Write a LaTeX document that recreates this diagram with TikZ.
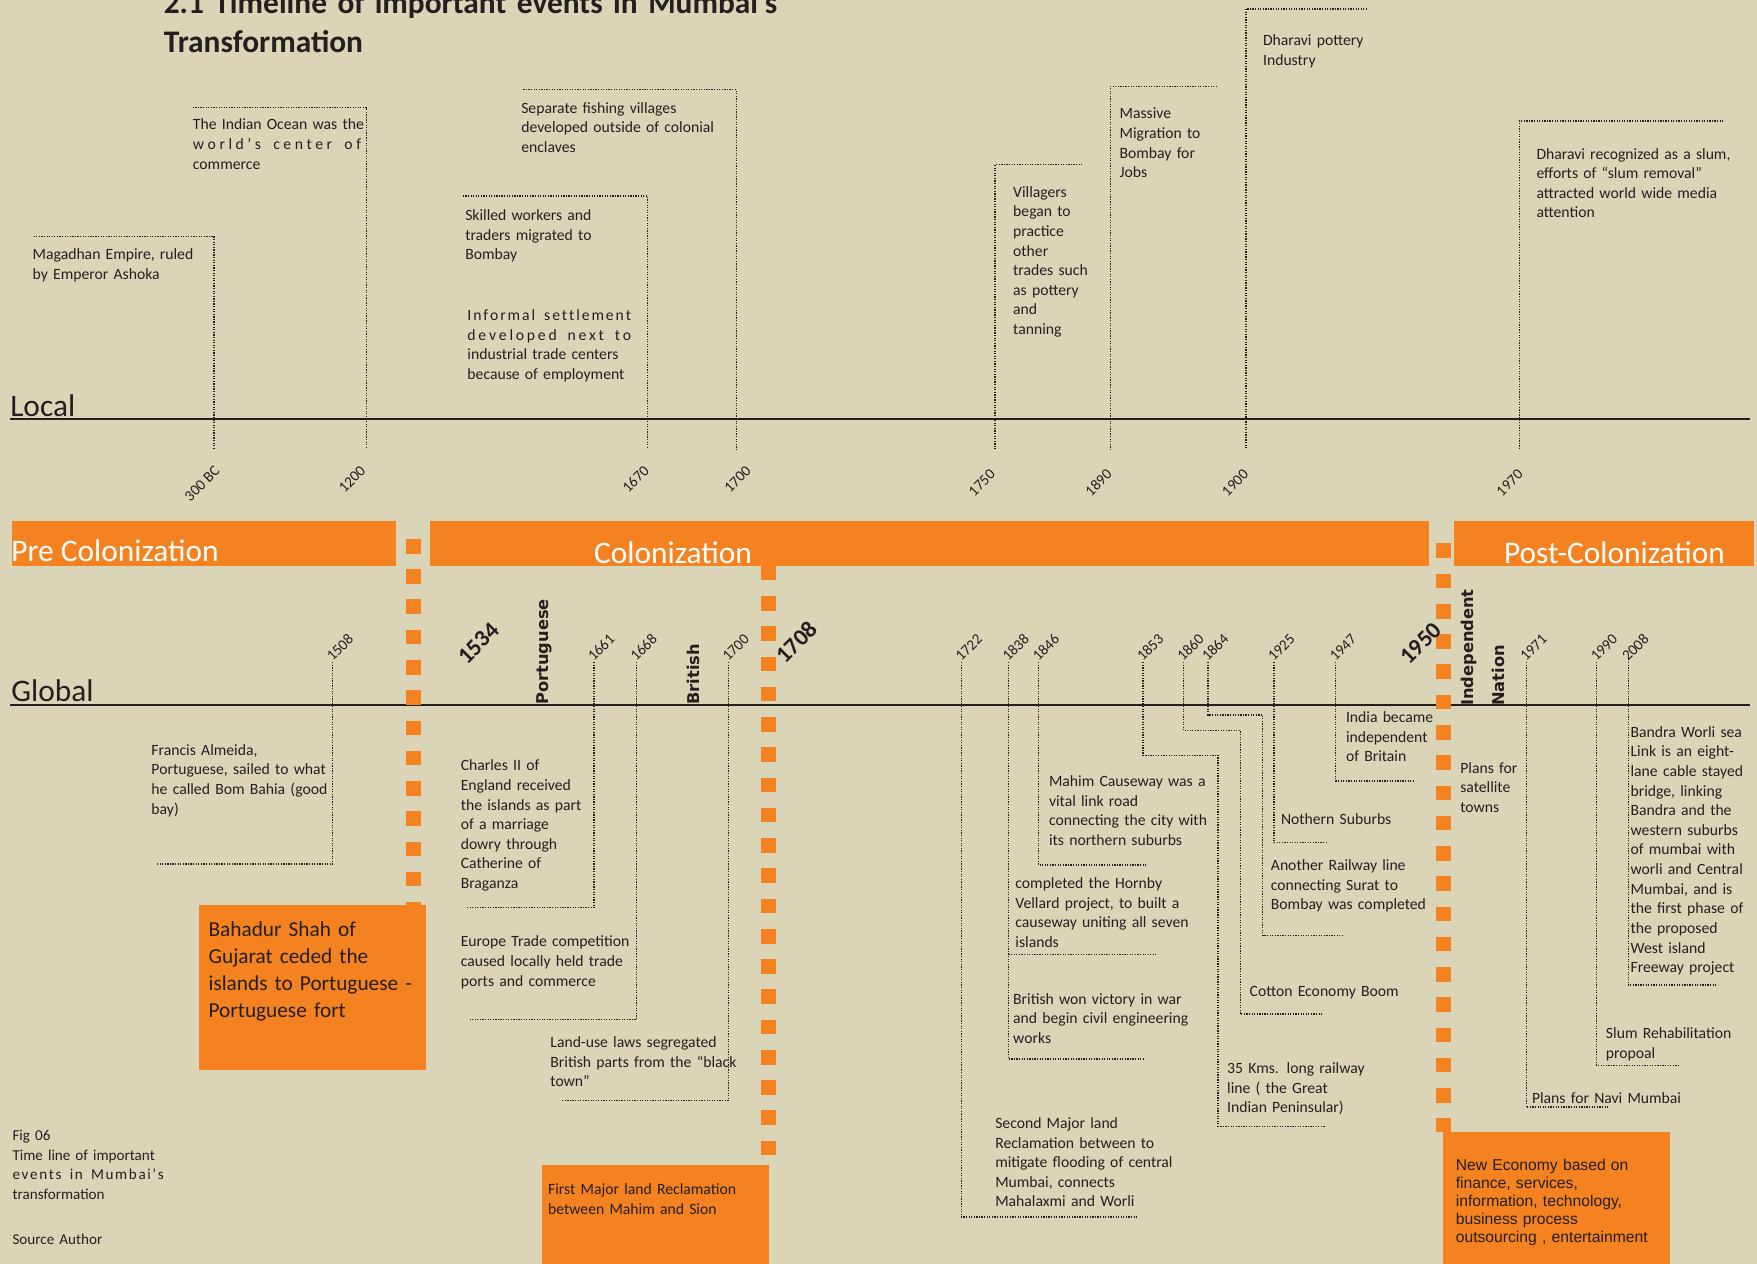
\documentclass[tikz,border=0pt]{standalone}
\usepackage{fontspec}
\setmainfont{Carlito}
\newfontfamily\verdanaish{DejaVu Sans}
\newfontfamily\arialish{Liberation Sans}
\definecolor{paper}{RGB}{219,213,183}
\definecolor{saffron}{RGB}{245,130,32}
\definecolor{ink}{RGB}{35,31,32}
\newcommand{\evfont}{\fontsize{14}{17.5}\selectfont}
\newcommand{\yrfont}{\fontsize{13.5}{13.5}\selectfont}
\newcommand{\jl}[2]{\makebox[#1][s]{#2}}
\def\spreadit#1{\ifx#1\relax\else#1\hfil\expandafter\spreadit\fi}
\newcommand{\spread}[2]{\makebox[#1][s]{\spreadit#2\relax\unskip}}

\begin{document}
\begin{tikzpicture}[x=1pt, y=-1pt,
	ev/.style={anchor=base west, inner sep=0pt, text width=#1, align=left, font=\evfont, text=ink},
	ev/.default=150pt,
	lead/.style={draw=ink, line width=1.1pt, dash pattern=on 1.1pt off 1.2pt},
	yr/.style={font=\yrfont, rotate=45, inner sep=0pt, text=ink},
	milestone/.style={font=\fontsize{21}{21}\selectfont\bfseries, rotate=45, inner sep=0pt, text=ink},
	rule/.style={draw=ink, line width=1.2pt},
	era/.style={fill=saffron},
	eratext/.style={font=\fontsize{28}{28}\selectfont, text=white, anchor=base west, inner sep=0pt},
	divider/.style={draw=saffron, line width=13pt, dash pattern=on 13pt off 14pt},
	ruler/.style={font=\verdanaish\bfseries\fontsize{14.5}{14.5}\selectfont, rotate=90, anchor=west, inner sep=0pt, text=ink},
	side/.style={font=\fontsize{28}{28}\selectfont, anchor=base west, inner sep=0pt, text=ink}]
	\fill[paper] (0,0) rectangle (1568,1128);
	\useasboundingbox (0,0) rectangle (1568,1128);

	% title
	\node[ev=640pt, font=\fontsize{28}{35}\selectfont\bfseries] (title) at (146,12)
		{2.1 Timeline of important events in Mumbai’s\\Transformation};

	% the two axes
	\node[side] (local) at (9,372) {Local};
	\node[side] (global) at (10,626) {Global};
	\coordinate (localE) at (1562,374);
	\coordinate (globalE) at (1562,629);
	\draw[rule] (9,374) -- (localE);
	\draw[rule] (9,629) -- (globalE);

	% eras
	\fill[era] (11,465) rectangle (353,505);
	\fill[era] (384,465) rectangle (1275,505);
	\fill[era] (1298,465) rectangle (1565,505);
	\node[eratext] (pre) at (10,501) {Pre Colonization};
	\node[eratext] (col) at (530,503) {Colonization};
	\node[eratext] (post) at (1342,503) {Post-Colonization};

	\draw[divider] (369,481) -- (369,808);
	\draw[divider] (686,505) -- (686,1031);
	\draw[divider] (1288,485) -- (1288,1010);

	\fill[saffron] (178,808) rectangle (380,955);
	\fill[saffron] (484,1040) rectangle (686,1128);
	\fill[saffron] (1288,1010) rectangle (1490,1128);

	% local events
	\node[ev=155pt] (ashoka) at (29,232) {\jl{153pt}{Magadhan Empire, ruled}\\by Emperor Ashoka};
	\coordinate (ashokaL) at (30,211); \coordinate (ashokaT) at (191,401);
	\draw[lead] (ashokaL) -| (ashokaT);
	\node[yr, anchor=east] (y300) at (194,418) {300 BC};

	\node[ev=160pt] (ocean) at (172,116) {The Indian Ocean was the\\\spread{150pt}{world’s\ center\ of}\\commerce};
	\coordinate (oceanL) at (172,96); \coordinate (oceanT) at (327,401);
	\draw[lead] (oceanL) -| (oceanT);
	\node[yr, anchor=east] (y1200) at (324,418) {1200};

	\node[ev=122pt] (skilled) at (415,197) {Skilled workers and\\traders migrated to\\Bombay};
	\node[ev=148pt] (informal) at (417,286) {\spread{146pt}{Informal\ settlement}\\\spread{146pt}{developed\ next\ to}\\\jl{146pt}{industrial trade centers}\\because of employment};
	\coordinate (skilledL) at (413,175); \coordinate (skilledT) at (578,401);
	\draw[lead] (skilledL) -| (skilledT);
	\node[yr, anchor=east] (y1670) at (577,418) {1670};

	\node[ev=180pt] (fishing) at (465,101) {Separate fishing villages\\developed outside of colonial\\enclaves};
	\coordinate (fishingL) at (467,80); \coordinate (fishingT) at (657,401);
	\draw[lead] (fishingL) -| (fishingT);
	\node[yr, anchor=east] (y1700) at (668,418) {1700};

	\node[ev=76pt] (villagers) at (904,176) {Villagers\\began to\\practice\\other\\trades such\\as pottery\\and\\tanning};
	\coordinate (villagersR) at (966,147); \coordinate (villagersT) at (888,401);
	\draw[lead] (villagersR) -| (villagersT);
	\node[yr, anchor=east] (y1750) at (886,421) {1750};

	\node[ev=82pt] (migration) at (999,106) {Massive\\Migration to\\Bombay for\\Jobs};
	\coordinate (migrationR) at (1086,77); \coordinate (migrationT) at (991,401);
	\draw[lead] (migrationR) -| (migrationT);
	\node[yr, anchor=east] (y1890) at (990,421) {1890};

	\node[ev=98pt] (pottery) at (1127,41) {Dharavi pottery\\Industry};
	\coordinate (potteryR) at (1220,8); \coordinate (potteryT) at (1112,401);
	\draw[lead] (potteryR) -| (potteryT);
	\node[yr, anchor=east] (y1900) at (1112,421) {1900};

	\node[ev=180pt] (slum) at (1371,142) {Dharavi recognized as a slum,\\efforts of “slum removal”\\attracted world wide media\\attention};
	\coordinate (slumR) at (1538,108); \coordinate (slumT) at (1356,401);
	\draw[lead] (slumR) -| (slumT);
	\node[yr, anchor=east] (y1970) at (1357,421) {1970};

	% global milestones
	\node[milestone] (m1534) at (427,574) {1534};
	\node[milestone] (m1708) at (711,573) {1708};
	\node[milestone] (m1950) at (1268,574) {1950};
	\node[ruler] (portuguese) at (486,629) {Portuguese};
	\node[ruler] (british) at (619,629) {British};
	\node[ruler] (independent) at (1311,630) {Independent};
	\node[ruler] (nation) at (1337,630) {Nation};

	% global events
	\node[ev=166pt] (almeida) at (135,674) {Francis Almeida,\\Portuguese, sailed to what\\he called Bom Bahia (good\\bay)};
	\node[yr, anchor=south west] (y1508) at (297,591) {1508};
	\coordinate (almeidaB) at (140,771);
	\draw[lead] (y1508.south west) |- (almeidaB);

	\node[ev=192pt, font=\fontsize{19}{24}\selectfont] (bahadur) at (186,836) {Bahadur Shah of\\Gujarat ceded the\\islands to Portuguese -\\Portuguese fort};

	\node[ev=116pt] (charles) at (411,688) {Charles II of\\England received\\the islands as part\\of a marriage\\dowry through\\Catherine of\\Braganza};
	\node[yr, anchor=south west] (y1661) at (530,591) {1661};
	\coordinate (charlesB) at (416,810);
	\draw[lead] (y1661.south west) |- (charlesB);

	\node[ev=158pt] (europe) at (411,845) {Europe Trade competition\\caused locally held trade\\ports and commerce};
	\node[yr, anchor=south west] (y1668) at (568,591) {1668};
	\coordinate (europeB) at (419,910);
	\draw[lead] (y1668.south west) |- (europeB);

	\node[ev=176pt] (landuse) at (491,935) {Land-use laws segregated\\British parts from the “black\\town”};
	\node[yr, anchor=south west] (y1700g) at (650,591) {1700};
	\coordinate (landuseB) at (501,982);
	\draw[lead] (y1700g.south west) |- (landuseB);

	\node[ev=176pt] (reclaim) at (489,1066) {First Major land Reclamation\\between Mahim and Sion};

	\node[ev=166pt] (second) at (888,1007) {Second Major land\\Reclamation between to\\mitigate flooding of central\\Mumbai, connects\\Mahalaxmi and Worli};
	\node[yr, anchor=south west] (y1722) at (858,591) {1722};
	\coordinate (secondB) at (1015,1086);
	\draw[lead] (y1722.south west) |- (secondB);

	\node[ev=164pt] (war) at (904,896) {British won victory in war\\and begin civil engineering\\works};
	\node[ev=163pt] (hornby) at (906,793) {completed the Hornby\\Vellard project, to built a\\causeway uniting all seven\\islands};
	\node[yr, anchor=south west] (y1838) at (900,591) {1838};
	\coordinate (warB) at (1020,945);
	\coordinate (hornbyK) at (900,852); \coordinate (hornbyB) at (1032,852);
	\draw[lead] (y1838.south west) |- (warB);
	\draw[lead] (hornbyK) -- (hornbyB);

	\node[ev=150pt] (mahim) at (936,702) {Mahim Causeway was a\\vital link road\\connecting the city with\\its northern suburbs};
	\node[yr, anchor=south west] (y1846) at (927,591) {1846};
	\coordinate (mahimB) at (1023,772);
	\draw[lead] (y1846.south west) |- (mahimB);

	\node[ev=132pt] (railway) at (1095,958) {35 Kms. long railway\\line ( the Great\\Indian Peninsular)};
	\node[yr, anchor=south west] (y1853) at (1020,591) {1853};
	\coordinate (railwayK) at (1087,674); \coordinate (railwayB) at (1183,1005);
	\draw[lead] (y1853.south west) |- (railwayK) |- (railwayB);

	\node[ev=142pt] (cotton) at (1115,889) {Cotton Economy Boom};
	\node[yr, anchor=south west] (y1860) at (1056,591) {1860};
	\coordinate (cottonK) at (1107,652); \coordinate (cottonB) at (1180,905);
	\draw[lead] (y1860.south west) |- (cottonK) |- (cottonB);

	\node[ev=146pt] (surat) at (1134,777) {Another Railway line\\connecting Surat to\\Bombay was completed};
	\node[yr, anchor=south west] (y1864) at (1078,591) {1864};
	\coordinate (suratK) at (1127,638); \coordinate (suratB) at (1198,835);
	\draw[lead] (y1864.south west) |- (suratK) |- (suratB);

	\node[ev=108pt] (suburbs) at (1143,736) {Nothern Suburbs};
	\node[yr, anchor=south west] (y1925) at (1137,591) {1925};
	\coordinate (suburbsB) at (1185,752);
	\draw[lead] (y1925.south west) |- (suburbsB);

	\node[ev=86pt] (freedom) at (1201,645) {India became\\independent\\of Britain};
	\node[yr, anchor=south west] (y1947) at (1192,591) {1947};
	\coordinate (freedomB) at (1263,697);
	\draw[lead] (y1947.south west) |- (freedomB);

	\node[ev=58pt] (satellite) at (1303,690) {Plans for\\satellite\\towns};

	\node[ev=142pt] (navi) at (1367,985) {Plans for Navi Mumbai};
	\node[yr, anchor=south west] (y1971) at (1362,591) {1971};
	\coordinate (naviB) at (1435,988);
	\draw[lead] (y1971.south west) |- (naviB);

	\node[ev=120pt] (rehab) at (1433,927) {Slum Rehabilitation\\propoal};
	\node[yr, anchor=south west] (y1990) at (1425,591) {1990};
	\coordinate (rehabB) at (1499,951);
	\draw[lead] (y1990.south west) |- (rehabB);

	\node[ev=108pt] (sealink) at (1455,658) {Bandra Worli sea\\Link is an eight-\\lane cable stayed\\bridge, linking\\Bandra and the\\western suburbs\\of mumbai with\\worli and Central\\Mumbai, and is\\the first phase of\\the proposed\\West island\\Freeway project};
	\node[yr, anchor=south west] (y2008) at (1453,591) {2008};
	\coordinate (sealinkB) at (1533,879);
	\draw[lead] (y2008.south west) |- (sealinkB);

	\node[ev=180pt, font=\arialish\fontsize{14}{16}\selectfont] (economy) at (1299,1045) {New Economy based on\\finance, services,\\information, technology,\\business process\\outsourcing , entertainment};

	% caption
	\node[ev=138pt, font=\fontsize{13.5}{17.5}\selectfont] (fig) at (11,1018) {Fig 06\\\jl{135pt}{Time line of important}\\\spread{135pt}{events\ in\ Mumbai’s}\\transformation};
	\node[ev=88pt, font=\fontsize{13.5}{17.5}\selectfont] (source) at (11,1111) {Source Author};
\end{tikzpicture}
\end{document}
